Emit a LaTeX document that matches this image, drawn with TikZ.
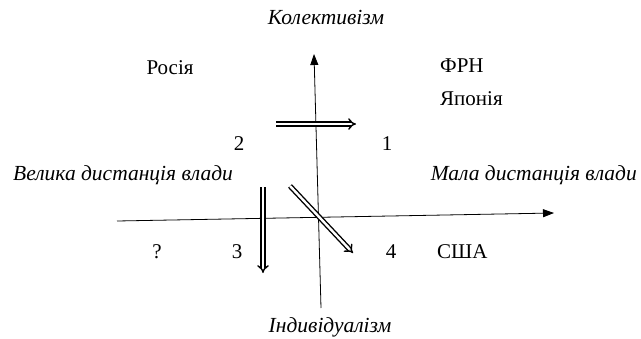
\documentclass[tikz,border=0pt]{standalone}
\usepackage{fontspec}
\setmainfont{Liberation Serif}
\usetikzlibrary{arrows.meta}
\begin{document}
\begin{tikzpicture}[x=1pt,y=-1pt,
  lbl/.style={font=\fontsize{21}{24}\selectfont, inner sep=0pt},
  ilbl/.style={font=\fontsize{21.5}{24}\selectfont\itshape, inner sep=0pt},
  axis/.style={line width=0.8pt, -{Triangle[length=11pt,width=8pt]}},
  dbl/.style={double, double distance=2.4pt, line width=1.4pt, -{Implies[]}}]
\useasboundingbox (0,0) rectangle (641,338);
% axes
\coordinate (vb) at (321,308);
\coordinate (vt) at (314,54);
\coordinate (hl) at (117,221);
\coordinate (hr) at (554,213);
\draw[axis] (vb) -- (vt);
\draw[axis] (hl) -- (hr);
% double arrows
\coordinate (a1s) at (276,124);
\coordinate (a1e) at (356,124);
\coordinate (a2s) at (263,187);
\coordinate (a2e) at (263,273);
\coordinate (a3s) at (290,186);
\coordinate (a3e) at (353,253);
\draw[dbl] (a1s) -- (a1e);
\draw[dbl] (a2s) -- (a2e);
\draw[dbl] (a3s) -- (a3e);
% labels
\node[ilbl] (kol) at (326,18) {Колективізм};
\node[ilbl] (ind) at (330,327) {Індивідуалізм};
\node[ilbl, anchor=west] (vel) at (13,175) {Велика дистанція влади};
\node[ilbl, anchor=east] (mal) at (637,175) {Мала дистанція влади};
\node[lbl] (ros) at (170,68) {Росія};
\node[lbl, anchor=west] (frn) at (440,66) {ФРН};
\node[lbl, anchor=west] (jap) at (440,99) {Японія};
\node[lbl] (n2) at (239,144) {2};
\node[lbl] (n1) at (387,144) {1};
\node[lbl] (q) at (157,252) {?};
\node[lbl] (n3) at (237,252) {3};
\node[lbl] (n4) at (391,252) {4};
\node[lbl, anchor=west] (usa) at (437,252) {США};
\end{tikzpicture}
\end{document}
